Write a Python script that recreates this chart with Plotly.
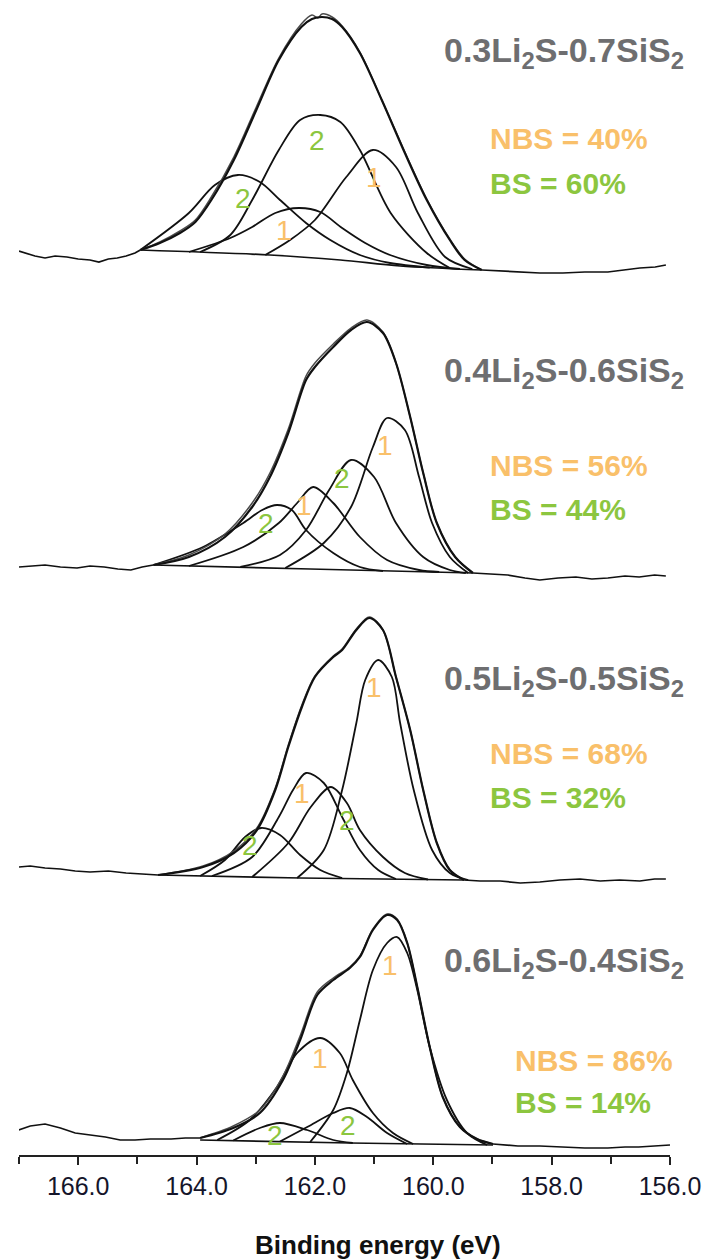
import plotly.graph_objects as go

# ---------------- data (binding energy in eV, intensity in arbitrary units) ----------------
tick_vals = [166, 164, 162, 160, 158, 156]
tick_text = ["166.0", "164.0", "162.0", "160.0", "158.0", "156.0"]

samples = ["0.3Li<sub>2</sub>S-0.7SiS<sub>2</sub>", "0.4Li<sub>2</sub>S-0.6SiS<sub>2</sub>",
           "0.5Li<sub>2</sub>S-0.5SiS<sub>2</sub>", "0.6Li<sub>2</sub>S-0.4SiS<sub>2</sub>"]
nbs_pct = [40, 56, 68, 86]
bs_pct = [60, 44, 32, 14]
offsets = [885, 570, 270, 5]

# ---- panel 1 : 0.3Li2S-0.7SiS2 ----
p1_left_x = [167.00, 166.86, 166.73, 166.56, 166.39, 166.19, 166.00, 165.80, 165.65, 165.49, 165.34, 165.19, 165.04, 164.95]
p1_left_y = [19, 16, 14, 12, 14, 13, 11, 10, 8, 11, 12, 14, 17, 20]
p1_right_x = [159.18, 158.87, 158.57, 158.20, 157.81, 157.44, 157.05, 156.76, 156.51, 156.25, 156.07]
p1_right_y = [0, -1, -2, -3, -3, -2, -2, 0, 2, 3, 5]
p1_bg_x = [164.95, 162.76, 161.57, 160.56, 159.18]
p1_bg_y = [20, 15, 10, 4, 0]
p1_fit_x = [164.95, 164.62, 164.28, 164.02, 163.75, 163.37, 162.99, 162.61, 162.23, 162.05, 161.88, 161.71,
            161.54, 161.24, 160.87, 160.48, 160.11, 159.72, 159.47, 159.18]
p1_fit_y = [20, 27, 37, 48, 70, 110, 160, 210, 243, 251, 253, 251, 243, 217, 170, 117, 70, 30, 10, 0]
p1_exp_x = [164.95, 164.62, 164.28, 164.02, 163.75, 163.37, 162.99, 162.61, 162.23, 162.05, 161.95, 161.88,
            161.71, 161.54, 161.24, 160.87, 160.48, 160.11, 159.72, 159.47, 159.18]
p1_exp_y = [20, 28, 39, 50, 73, 113, 163, 212, 246, 255, 252, 256, 253, 244, 218, 170, 118, 71, 31, 11, 0]
p1_c1_x = [164.95, 164.13, 163.69, 163.30, 162.93, 162.59, 162.15, 161.74, 161.24, 160.73, 160.06]
p1_c1_y = [20, 57, 85, 95, 88, 70, 47, 30, 15, 7, 2.5]
p1_c2_x = [164.13, 163.43, 163.06, 162.67, 162.27, 161.91, 161.54, 161.15, 160.73, 160.11, 159.55]
p1_c2_y = [18, 32, 43, 57, 62, 58, 42, 27, 15, 5, 1]
p1_c3_x = [163.94, 163.43, 163.06, 162.61, 162.25, 161.91, 161.57, 161.24, 160.72, 160.11, 159.72]
p1_c3_y = [18, 35, 70, 120, 150, 155, 148, 120, 57, 17, 2]
p1_c4_x = [162.84, 162.42, 162.00, 161.47, 161.02, 160.63, 160.26, 159.80, 159.34]
p1_c4_y = [15, 30, 50, 93, 120, 103, 57, 13, 1]

# ---- panel 2 : 0.4Li2S-0.6SiS2 ----
p2_left_x = [167.00, 166.81, 166.56, 166.30, 166.02, 165.80, 165.56, 165.33, 165.11, 164.92, 164.73]
p2_left_y = [18, 19, 20, 18, 17, 19, 18, 16, 15, 18, 20]
p2_right_x = [159.33, 159.04, 158.74, 158.45, 158.20, 157.89, 157.59, 157.32, 157.05, 156.76, 156.52, 156.26, 156.07]
p2_right_y = [12, 11, 10, 7, 5, 7, 8, 6, 7, 9, 8, 10, 9]
p2_bg_x = [164.73, 162.08, 159.33]
p2_bg_y = [20, 16, 12]
p2_fit_x = [164.73, 164.13, 163.52, 163.06, 162.76, 162.45, 162.15, 162.00, 161.69, 161.39, 161.12, 160.85,
            160.63, 160.39, 160.17, 159.94, 159.63, 159.33]
p2_fit_y = [20, 28, 48, 78, 108, 152, 205, 218, 238, 255, 263, 252, 222, 168, 112, 62, 28, 12]
p2_exp_x = p2_fit_x
p2_exp_y = [20, 30, 51, 82, 112, 156, 209, 222, 241, 257, 265, 253, 222, 168, 112, 62, 28, 12]
p2_c1_x = [164.73, 163.89, 163.21, 162.89, 162.64, 162.39, 162.15, 161.69, 161.24, 160.85]
p2_c1_y = [20, 38, 62, 75, 80, 75, 55, 32, 18, 14]
p2_c2_x = [164.13, 163.21, 162.61, 162.30, 162.03, 161.69, 161.24, 160.78, 160.24, 159.90]
p2_c2_y = [19, 38, 62, 82, 98, 82, 48, 25, 15, 13]
p2_c3_x = [163.26, 162.59, 162.15, 161.76, 161.39, 161.00, 160.63, 160.17, 159.72, 159.45]
p2_c3_y = [18, 30, 55, 95, 125, 108, 62, 28, 15, 12]
p2_c4_x = [162.50, 161.85, 161.39, 161.02, 160.78, 160.48, 160.24, 160.02, 159.72, 159.41]
p2_c4_y = [17, 42, 78, 138, 167, 155, 108, 62, 28, 12]

# ---- panel 3 : 0.5Li2S-0.5SiS2 ----
p3_left_x = [167.00, 166.81, 166.56, 166.30, 166.05, 165.80, 165.49, 165.19, 164.92, 164.65]
p3_left_y = [18, 19, 17, 16, 14, 13, 14, 12, 11, 10]
p3_right_x = [159.48, 159.21, 158.87, 158.53, 158.20, 157.86, 157.52, 157.18, 156.85, 156.51, 156.26, 156.07]
p3_right_y = [5, 4, 4, 2, 3, 5, 6, 4, 5, 4, 6, 6]
p3_bg_x = [164.65, 162.25, 159.48]
p3_bg_y = [10, 7, 5]
p3_fit_x = [164.65, 163.89, 163.37, 162.98, 162.67, 162.45, 162.22, 162.00, 161.69, 161.54, 161.30, 161.08,
            160.85, 160.63, 160.39, 160.17, 159.94, 159.72, 159.48]
p3_fit_y = [10, 18, 32, 55, 95, 138, 178, 208, 228, 235, 255, 267, 255, 208, 155, 95, 42, 15, 5]
p3_exp_x = p3_fit_x
p3_exp_y = [10, 19, 34, 57, 97, 140, 180, 209, 229, 236, 256, 268, 255, 208, 155, 95, 42, 15, 5]
p3_c1_x = [163.94, 163.52, 163.18, 162.91, 162.59, 162.25, 161.91, 161.54]
p3_c1_y = [9, 25, 48, 57, 50, 30, 15, 7]
p3_c2_x = [163.74, 163.06, 162.61, 162.37, 162.15, 161.85, 161.54, 161.24, 160.93, 160.63]
p3_c2_y = [9, 28, 68, 95, 112, 102, 68, 35, 15, 6]
p3_c3_x = [163.06, 162.45, 162.07, 161.73, 161.46, 161.24, 160.85, 160.48, 160.09]
p3_c3_y = [8, 42, 78, 98, 82, 55, 28, 12, 5.5]
p3_c4_x = [162.30, 161.85, 161.54, 161.30, 161.15, 160.93, 160.70, 160.56, 160.33, 160.02, 159.72, 159.41]
p3_c4_y = [7, 35, 95, 162, 205, 225, 208, 162, 95, 35, 12, 5]

# ---- panel 4 : 0.6Li2S-0.4SiS2 ----
p4_left_x = [167.01, 166.81, 166.56, 166.30, 166.05, 165.80, 165.54, 165.29, 165.04, 164.78, 164.43, 164.19, 163.94]
p4_left_y = [20, 24, 26, 22, 17, 15, 13, 10, 10, 11, 11, 12, 12]
p4_right_x = [158.99, 158.57, 158.20, 157.81, 157.44, 157.05, 156.76, 156.53, 156.25, 156.00]
p4_right_y = [6, 4, 4, 3, 2, 2, 3, 3, 4, 5]
p4_bg_x = [163.94, 161.41, 158.99]
p4_bg_y = [10, 7, 5]
p4_fit_x = [163.94, 163.38, 162.93, 162.54, 162.25, 161.96, 161.69, 161.41, 161.24, 161.02, 160.78, 160.61,
            160.44, 160.27, 160.06, 159.84, 159.55, 159.26, 158.99]
p4_fit_y = [12, 22, 37, 70, 110, 155, 170, 182, 193, 220, 235, 230, 207, 163, 103, 53, 23, 11, 6]
p4_exp_x = p4_fit_x
p4_exp_y = [12, 24, 40, 74, 114, 158, 172, 183, 194, 221, 236, 231, 207, 163, 103, 53, 23, 11, 6]
p4_c1_x = [163.38, 162.93, 162.59, 162.13, 161.69, 161.36]
p4_c1_y = [9.5, 22, 27, 20, 10, 7]
p4_c2_x = [163.65, 163.10, 162.64, 162.30, 161.91, 161.58, 161.36, 161.02, 160.68, 160.34]
p4_c2_y = [10, 30, 63, 97, 112, 97, 70, 37, 17, 6]
p4_c3_x = [162.59, 162.13, 161.69, 161.41, 161.12, 160.78, 160.44]
p4_c3_y = [8.5, 23, 37, 42, 33, 17, 6]
p4_c4_x = [162.08, 161.69, 161.46, 161.24, 161.02, 160.78, 160.61, 160.44, 160.27, 160.06, 159.77, 159.43, 159.09]
p4_c4_y = [8, 40, 77, 130, 180, 207, 213, 197, 160, 103, 50, 17, 5]

# peak labels: (text, energy, intensity) per panel
p1_marks = [("2", 163.21, 72), ("2", 161.96, 130), ("1", 162.52, 40), ("1", 161.00, 93)]
p2_marks = [("2", 162.82, 62), ("1", 162.18, 80), ("2", 161.54, 107), ("1", 160.81, 140)]
p3_marks = [("1", 161.00, 198), ("1", 162.22, 92), ("2", 161.46, 65), ("2", 163.10, 40)]
p4_marks = [("1", 160.73, 185), ("1", 161.91, 92), ("2", 161.44, 25), ("2", 162.67, 15)]

panels = [
    dict(left=(p1_left_x, p1_left_y), right=(p1_right_x, p1_right_y), bg=(p1_bg_x, p1_bg_y),
         fit=(p1_fit_x, p1_fit_y), exp=(p1_exp_x, p1_exp_y),
         comps=[(p1_c1_x, p1_c1_y), (p1_c2_x, p1_c2_y), (p1_c3_x, p1_c3_y), (p1_c4_x, p1_c4_y)], marks=p1_marks),
    dict(left=(p2_left_x, p2_left_y), right=(p2_right_x, p2_right_y), bg=(p2_bg_x, p2_bg_y),
         fit=(p2_fit_x, p2_fit_y), exp=(p2_exp_x, p2_exp_y),
         comps=[(p2_c1_x, p2_c1_y), (p2_c2_x, p2_c2_y), (p2_c3_x, p2_c3_y), (p2_c4_x, p2_c4_y)], marks=p2_marks),
    dict(left=(p3_left_x, p3_left_y), right=(p3_right_x, p3_right_y), bg=(p3_bg_x, p3_bg_y),
         fit=(p3_fit_x, p3_fit_y), exp=(p3_exp_x, p3_exp_y),
         comps=[(p3_c1_x, p3_c1_y), (p3_c2_x, p3_c2_y), (p3_c3_x, p3_c3_y), (p3_c4_x, p3_c4_y)], marks=p3_marks),
    dict(left=(p4_left_x, p4_left_y), right=(p4_right_x, p4_right_y), bg=(p4_bg_x, p4_bg_y),
         fit=(p4_fit_x, p4_fit_y), exp=(p4_exp_x, p4_exp_y),
         comps=[(p4_c1_x, p4_c1_y), (p4_c2_x, p4_c2_y), (p4_c3_x, p4_c3_y), (p4_c4_x, p4_c4_y)], marks=p4_marks),
]

# ---------------- styling ----------------
ORANGE = "#F9C06A"
GREEN = "#8CC63F"
GREY = "#6E6E70"
FONT = "Liberation Sans, Arial, sans-serif"

W, H = 702, 1259
L, R, T, B = 19, 32, 0, 104

fig = go.Figure()


def add_line(xs, ys, off, width=1.8, color="#111111", spline=True):
    fig.add_trace(go.Scatter(
        x=xs, y=[v + off for v in ys], mode="lines", hoverinfo="skip",
        line=dict(color=color, width=width, shape="spline" if spline else "linear", smoothing=0.9),
        showlegend=False))


for i, p in enumerate(panels):
    off = offsets[i]
    add_line(*p["left"], off, width=1.7, spline=False)
    add_line(*p["right"], off, width=1.7, spline=False)
    add_line(*p["bg"], off, width=1.7)
    for cx, cy in p["comps"]:
        add_line(cx, cy, off, width=1.8)
    add_line(*p["exp"], off, width=1.5, color="#4a4a4a")
    add_line(*p["fit"], off, width=2.2)
    for txt, ex, iy in p["marks"]:
        fig.add_annotation(x=ex, y=iy + off, xref="x", yref="y", text=txt, showarrow=False,
                           font=dict(family=FONT, size=28, color=ORANGE if txt == "1" else GREEN))

plot_w = W - L - R
plot_h = H - T - B


def px(xp):
    return (xp - L) / plot_w


def py(yp):
    return (H - B - yp) / plot_h


label_y = [53, 372, 680, 963]
nbs_y = [138, 466, 753, 1060]
bs_y = [183, 509, 797, 1102]
nbs_x = [488, 488, 488, 513]

for i in range(4):
    fig.add_annotation(x=px(686), y=py(label_y[i]), xref="paper", yref="paper", xanchor="right",
                       yanchor="middle", text="<b>" + samples[i] + "</b>", showarrow=False,
                       font=dict(family=FONT, size=34, color=GREY))
    fig.add_annotation(x=px(nbs_x[i]), y=py(nbs_y[i]), xref="paper", yref="paper", xanchor="left",
                       yanchor="middle", text="<b>NBS = %d%%</b>" % nbs_pct[i], showarrow=False,
                       font=dict(family=FONT, size=30, color=ORANGE))
    fig.add_annotation(x=px(nbs_x[i]), y=py(bs_y[i]), xref="paper", yref="paper", xanchor="left",
                       yanchor="middle", text="<b>BS = %d%%</b>" % bs_pct[i], showarrow=False,
                       font=dict(family=FONT, size=30, color=GREEN))

fig.add_annotation(x=px(378), y=py(1245), xref="paper", yref="paper", xanchor="center", yanchor="middle",
                   text="<b>Binding energy (eV)</b>", showarrow=False,
                   font=dict(family=FONT, size=26, color="#111111"))

fig.update_layout(
    width=W, height=H, margin=dict(l=L, r=R, t=T, b=B),
    paper_bgcolor="white", plot_bgcolor="white",
    xaxis=dict(range=[167, 156], tickvals=tick_vals, ticktext=tick_text, ticks="outside", ticklen=8,
               tickwidth=2, tickcolor="#222222", showline=True, linewidth=2, linecolor="#222222",
               showgrid=False, zeroline=False,
               tickfont=dict(family=FONT, size=25, color="#15152a"),
               minor=dict(dtick=1, tick0=156, ticks="outside", ticklen=7, tickwidth=1.5, tickcolor="#222222",
                          showgrid=False)),
    yaxis=dict(range=[0, plot_h], visible=False, showgrid=False, zeroline=False),
)

fig.write_html("out.html")
